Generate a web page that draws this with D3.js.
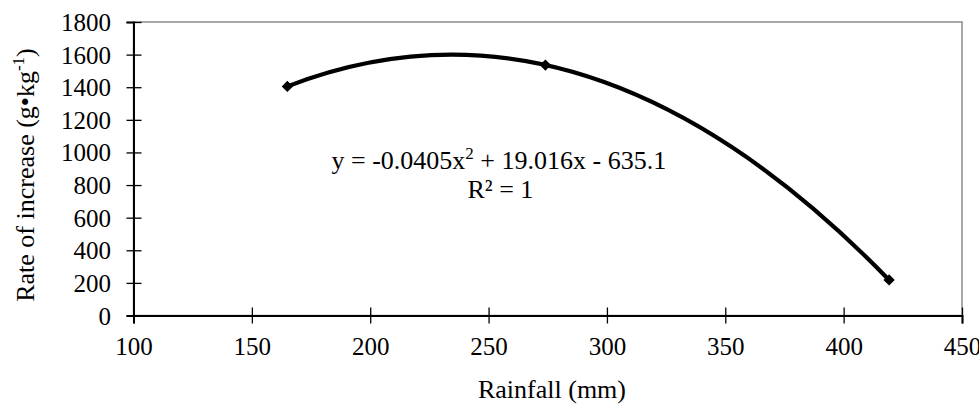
<!DOCTYPE html>
<html>
<head>
<meta charset="utf-8">
<script src="https://cdn.jsdelivr.net/npm/d3@7"></script>
<style>
  body { margin: 0; background: #fff; }
  svg { display: block; }
</style>
</head>
<body>
<script>
// data
const rainfall = [165, 274, 419.2];
const rate = [1405, 1536, 218];
const xTicks = [100, 150, 200, 250, 300, 350, 400, 450];
const yTicks = [0, 200, 400, 600, 800, 1000, 1200, 1400, 1600, 1800];
const equationText = ["y = -0.0405x", "2", " + 19.016x - 635.1"];
const r2Text = "R\u00B2 = 1";

const width = 979, height = 406;
const margin = { top: 22, right: 17, bottom: 90.5, left: 133.5 };
const font = "Liberation Serif";

const svg = d3.select("body").append("svg")
  .attr("width", width)
  .attr("height", height);

const x = d3.scaleLinear()
  .domain([100, 450])
  .range([margin.left, width - margin.right]);

const y = d3.scaleLinear()
  .domain([0, 1800])
  .range([height - margin.bottom, margin.top]);

// plot area border (grey top / right)
svg.append("rect")
  .attr("x", x(100))
  .attr("y", y(1800))
  .attr("width", x(450) - x(100))
  .attr("height", y(0) - y(1800))
  .attr("fill", "none")
  .attr("stroke", "#8c8c8c")
  .attr("stroke-width", 1.5);

// x axis
const xAxis = svg.append("g")
  .attr("transform", `translate(0,${y(0)})`)
  .call(d3.axisBottom(x).tickValues(xTicks).tickFormat(d3.format("d"))
    .tickSizeOuter(0).tickSize(8));
xAxis.attr("font-family", font);
xAxis.select(".domain").attr("stroke", "#000").attr("stroke-width", 2);
xAxis.selectAll(".tick line")
  .attr("y1", -8).attr("y2", 8)
  .attr("stroke", "#000").attr("stroke-width", 1.3);
xAxis.selectAll(".tick text")
  .attr("y", 39).attr("dy", 0)
  .attr("font-size", 25).attr("fill", "#000");

// y axis
const yAxis = svg.append("g")
  .attr("transform", `translate(${x(100)},0)`)
  .call(d3.axisLeft(y).tickValues(yTicks).tickFormat(d3.format("d"))
    .tickSizeOuter(0).tickSize(7));
yAxis.attr("font-family", font);
yAxis.select(".domain").attr("stroke", "#000").attr("stroke-width", 2);
yAxis.selectAll(".tick line")
  .attr("x1", 8).attr("x2", -7)
  .attr("stroke", "#000").attr("stroke-width", 1.3);
yAxis.selectAll(".tick text")
  .attr("x", -22.5).attr("dy", "0.34em")
  .attr("font-size", 25).attr("fill", "#000");

// polynomial (order 2) trendline fitted through the points,
// drawn as a quadratic bezier (a parabola segment is exactly one)
const [x0, x1, x2] = rainfall;
const [y0, y1, y2] = rate;
const f01 = (y1 - y0) / (x1 - x0);
const f12 = (y2 - y1) / (x2 - x1);
const a = (f12 - f01) / (x2 - x0);
const slope0 = f01 + a * (x0 - x1);
const xc = (x0 + x2) / 2;
const yc = y0 + slope0 * (xc - x0);

const trend = d3.path();
trend.moveTo(x(x0), y(y0));
trend.quadraticCurveTo(x(xc), y(yc), x(x2), y(y2));

svg.append("path")
  .attr("d", trend.toString())
  .attr("fill", "none")
  .attr("stroke", "#000")
  .attr("stroke-width", 4.2);

// diamond markers
svg.selectAll(".marker")
  .data(rainfall.map((d, i) => [d, rate[i]]))
  .join("path")
  .attr("class", "marker")
  .attr("d", d3.symbol().type(d3.symbolSquare).size(64))
  .attr("transform", d => `translate(${x(d[0])},${y(d[1])}) rotate(45)`)
  .attr("fill", "#000");

// trendline label
const eq = svg.append("text")
  .attr("x", 331.5)
  .attr("y", 168.5)
  .attr("font-family", font)
  .attr("font-size", 26);
eq.append("tspan").text(equationText[0]);
eq.append("tspan").attr("dy", -10).attr("font-size", 17).text(equationText[1]);
eq.append("tspan").attr("dy", 10).text(equationText[2]);

svg.append("text")
  .attr("x", 467.5)
  .attr("y", 197.5)
  .attr("font-family", font)
  .attr("font-size", 26)
  .text(r2Text);

// axis titles
svg.append("text")
  .attr("x", 552)
  .attr("y", 398)
  .attr("text-anchor", "middle")
  .attr("font-family", font)
  .attr("font-size", 26)
  .text("Rainfall (mm)");

const yTitle = svg.append("text")
  .attr("transform", "translate(34,175) rotate(-90)")
  .attr("text-anchor", "middle")
  .attr("font-family", font)
  .attr("font-size", 26);
yTitle.append("tspan").text("Rate of increase (g\u2022kg");
yTitle.append("tspan").attr("dy", -10).attr("font-size", 17).text("-1");
yTitle.append("tspan").attr("dy", 10).text(")");
</script>
</body>
</html>
